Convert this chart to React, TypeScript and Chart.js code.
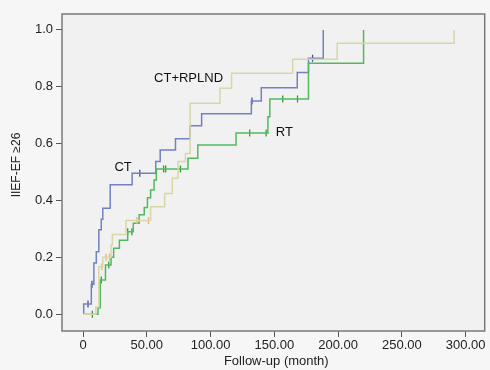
import { useEffect, useRef } from "react";
import { Chart, registerables } from "chart.js";

Chart.register(...registerables);

// ---- data ----
const xTickValues = [0, 50, 100, 150, 200, 250, 300];
const yTickValues = [0, 0.2, 0.4, 0.6, 0.8, 1.0];

const ctMonths = [0, 0.5, 6.5, 8.5, 10.4, 12.4, 14.3, 15.5, 21.3, 38.5, 57, 60.5, 72.5, 84, 93, 132, 139.8, 168, 176.8, 188.4];
const ctValues = [0, 0.036, 0.105, 0.18, 0.22, 0.297, 0.334, 0.373, 0.455, 0.496, 0.537, 0.578, 0.617, 0.663, 0.705, 0.75, 0.797, 0.85, 0.9, 1.0];
const ctCensorMonths = [3.9, 7, 44.5, 132.5, 180];
const ctCensorValues = [0.036, 0.105, 0.496, 0.75, 0.9];

const rtMonths = [0, 11.7, 13.5, 17.6, 22, 24, 28.5, 35, 39.4, 44, 48, 50.5, 53, 55.7, 57.5, 82.3, 90, 120, 145, 146.5, 176.8, 220];
const rtValues = [0, 0.023, 0.12, 0.173, 0.2, 0.232, 0.26, 0.29, 0.32, 0.35, 0.375, 0.41, 0.437, 0.472, 0.511, 0.549, 0.595, 0.637, 0.695, 0.757, 0.883, 1.0];
const rtCensorMonths = [7.3, 14.3, 20.2, 35, 38.3, 63.2, 64.8, 76.4, 130.7, 143.6, 156.6, 168.2];
const rtCensorValues = [0, 0.12, 0.173, 0.29, 0.29, 0.511, 0.511, 0.511, 0.637, 0.637, 0.757, 0.757];

const rplndMonths = [0, 10, 12.4, 15.5, 22, 23, 33.7, 53, 64, 70, 74.5, 80.3, 84, 107.4, 116.5, 164.4, 199.3, 291];
const rplndValues = [0, 0.025, 0.167, 0.2, 0.244, 0.28, 0.33, 0.378, 0.425, 0.478, 0.537, 0.565, 0.742, 0.795, 0.848, 0.897, 0.953, 1.0];
const rplndCensorMonths = [14.8, 18.1, 20.7, 42.2, 51.3];
const rplndCensorValues = [0.167, 0.2, 0.2, 0.33, 0.33];

const groupLabels = ["CT", "CT+RPLND", "RT"];
const labelMonths = [24.6, 55.7, 151.2];
const labelValues = [0.515, 0.831, 0.638];

const xTitle = "Follow-up (month)";
const yTitle = "IIEF-EF \u226526";

const FONT = "Arial, 'Liberation Sans', sans-serif";

const pts = (xs: number[], ys: number[]) => xs.map((x, i) => ({ x, y: ys[i] }));

const decorPlugin = {
  id: "decor",
  beforeDraw(chart: any) {
    const { ctx, chartArea: a, width, height } = chart;
    ctx.save();
    ctx.fillStyle = "#f6f6f6";
    ctx.fillRect(0, 0, width, height);
    ctx.fillStyle = "#f1f1f1";
    ctx.fillRect(a.left, a.top, a.right - a.left, a.bottom - a.top);
    ctx.restore();
  },
  afterDraw(chart: any) {
    const { ctx, chartArea: a, scales } = chart;
    ctx.save();
    ctx.strokeStyle = "#7a7a7a";
    ctx.lineWidth = 1.5;
    ctx.strokeRect(a.left, a.top, a.right - a.left, a.bottom - a.top);
    ctx.fillStyle = "#111";
    ctx.font = `13px ${FONT}`;
    ctx.textAlign = "left";
    ctx.textBaseline = "middle";
    groupLabels.forEach((t, i) => {
      ctx.fillText(t, scales.x.getPixelForValue(labelMonths[i]), scales.y.getPixelForValue(labelValues[i]));
    });
    ctx.fillStyle = "#222";
    ctx.textAlign = "center";
    ctx.fillText(xTitle, (scales.x.getPixelForValue(0) + scales.x.getPixelForValue(300)) / 2 + 2, 361);
    ctx.translate(17, 165);
    ctx.rotate(-Math.PI / 2);
    ctx.font = `12px ${FONT}`;
    ctx.fillText(yTitle, 0, 0);
    ctx.restore();
  },
};

export default function App() {
  const ref = useRef<HTMLCanvasElement>(null);
  useEffect(() => {
    document.body.style.margin = "0";
    const lineDs = (label: string, xs: number[], ys: number[], color: string) => ({
      type: "line" as const,
      label,
      data: pts(xs, ys),
      stepped: true,
      borderColor: color,
      borderWidth: 1.5,
      pointRadius: 0,
      fill: false,
    });
    const censorDs = (label: string, xs: number[], ys: number[], color: string) => ({
      type: "scatter" as const,
      label,
      data: pts(xs, ys),
      pointStyle: "line",
      rotation: 90,
      pointRadius: 3.5,
      borderColor: color,
      backgroundColor: color,
      borderWidth: 1.3,
    });
    const chart = new Chart(ref.current!, {
      type: "line",
      data: {
        datasets: [
          lineDs("CT+RPLND", rplndMonths, rplndValues, "#d9d6a8"),
          censorDs("CT+RPLND censored", rplndCensorMonths, rplndCensorValues, "#e8b478"),
          lineDs("RT", rtMonths, rtValues, "#52b95e"),
          censorDs("RT censored", rtCensorMonths, rtCensorValues, "#2f9e3e"),
          lineDs("CT", ctMonths, ctValues, "#7181c2"),
          censorDs("CT censored", ctCensorMonths, ctCensorValues, "#3f4fa0"),
        ] as any,
      },
      options: {
        responsive: false,
        animation: false,
        layout: { padding: { top: 14, right: 1, left: 0, bottom: 0 } },
        plugins: { legend: { display: false }, tooltip: { enabled: false } },
        scales: {
          x: {
            type: "linear",
            min: -16.5,
            max: 315,
            afterBuildTicks: (s: any) => {
              s.ticks = xTickValues.map((v) => ({ value: v }));
            },
            afterFit: (s: any) => {
              s.height = 39;
            },
            ticks: {
              font: { size: 13, family: FONT },
              color: "#222",
              padding: 1,
              maxRotation: 0,
              autoSkip: false,
              callback: (v: any) => (Number(v) === 0 ? "0" : Number(v).toFixed(2)),
            },
            grid: { drawOnChartArea: false, drawTicks: true, tickLength: 6, color: "#555", lineWidth: 1 },
            border: { display: false },
          },
          y: {
            type: "linear",
            min: -0.059,
            max: 1.056,
            afterBuildTicks: (s: any) => {
              s.ticks = yTickValues.map((v) => ({ value: v }));
            },
            afterFit: (s: any) => {
              s.width = 62;
            },
            ticks: {
              font: { size: 13, family: FONT },
              color: "#222",
              padding: 3,
              autoSkip: false,
              callback: (v: any) => Number(v).toFixed(1),
            },
            grid: { drawOnChartArea: false, drawTicks: true, tickLength: 6, color: "#555", lineWidth: 1 },
            border: { display: false },
          },
        },
      },
      plugins: [decorPlugin],
    });
    return () => chart.destroy();
  }, []);
  return <canvas ref={ref} width={490} height={370} style={{ display: "block" }} />;
}
